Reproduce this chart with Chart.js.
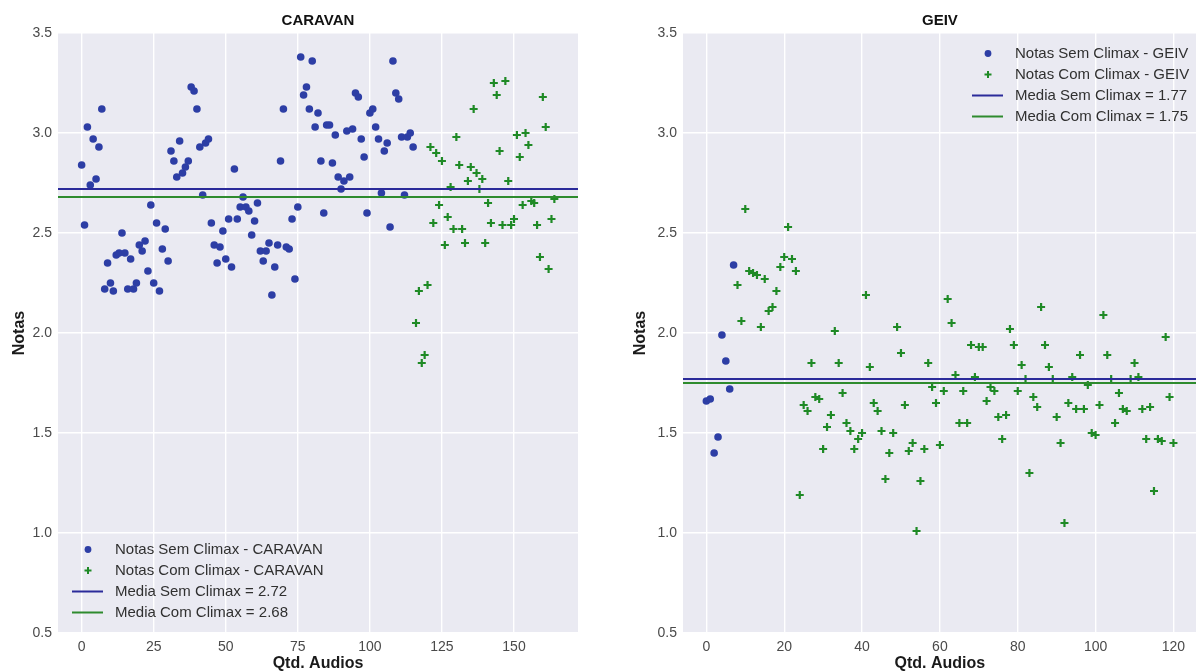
<!DOCTYPE html>
<html>
<head>
<meta charset="utf-8">
<script src="https://cdn.jsdelivr.net/npm/chart.js@4.4.1/dist/chart.umd.min.js"></script>
<style>
  html, body { margin: 0; padding: 0; background: #fff; overflow: hidden; }
  #wrap { position: relative; width: 1196px; height: 672px; overflow: hidden; }
  canvas { position: absolute; top: 0; }
  #caravan-chart { left: 0; }
  #geiv-chart { left: 598px; }
</style>
</head>
<body>
<div id="wrap">
  <canvas id="caravan-chart" width="598" height="672"></canvas>
  <canvas id="geiv-chart" width="605" height="672"></canvas>
</div>
<script>
// tick labels
const notasTicks = [0.5, 1.0, 1.5, 2.0, 2.5, 3.0, 3.5];
const caravanAudioTicks = [0, 25, 50, 75, 100, 125, 150];
const geivAudioTicks = [0, 20, 40, 60, 80, 100, 120];

// CARAVAN: notas por audio (sem climax primeiro, depois com climax)
const caravanSemClimax = [
    2.84, 2.54, 3.03, 2.74, 2.97, 2.77, 2.93, 3.12, 2.22, 2.35,
    2.25, 2.21, 2.39, 2.40, 2.50, 2.40, 2.22, 2.37, 2.22, 2.25,
    2.44, 2.41, 2.46, 2.31, 2.64, 2.25, 2.55, 2.21, 2.42, 2.52,
    2.36, 2.91, 2.86, 2.78, 2.96, 2.80, 2.83, 2.86, 3.23, 3.21,
    3.12, 2.93, 2.69, 2.95, 2.97, 2.55, 2.44, 2.35, 2.43, 2.51,
    2.37, 2.57, 2.33, 2.82, 2.57, 2.63, 2.68, 2.63, 2.61, 2.49,
    2.56, 2.65, 2.41, 2.36, 2.41, 2.45, 2.19, 2.33, 2.44, 2.86,
    3.12, 2.43, 2.42, 2.57, 2.27, 2.63, 3.38, 3.19, 3.23, 3.12,
    3.36, 3.03, 3.10, 2.86, 2.60, 3.04, 3.04, 2.85, 2.99, 2.78,
    2.72, 2.76, 3.01, 2.78, 3.02, 3.20, 3.18, 2.97, 2.88, 2.60,
    3.10, 3.12, 3.03, 2.97, 2.70, 2.91, 2.95, 2.53, 3.36, 3.20,
    3.17, 2.98, 2.69, 2.98, 3.00, 2.93
];
const caravanComClimax = [
    2.05, 2.21, 1.85, 1.89, 2.24, 2.93, 2.55, 2.90, 2.64, 2.86,
    2.44, 2.58, 2.73, 2.52, 2.98, 2.84, 2.52, 2.45, 2.76, 2.83,
    3.12, 2.80, 2.72, 2.77, 2.45, 2.65, 2.55, 3.25, 3.19, 2.91,
    2.54, 3.26, 2.76, 2.54, 2.57, 2.99, 2.88, 2.64, 3.00, 2.94,
    2.66, 2.65, 2.54, 2.38, 3.18, 3.03, 2.32, 2.57, 2.67
];
const caravanMediaSem = 2.72;
const caravanMediaCom = 2.68;

// GEIV
const geivSemClimax = [1.66, 1.67, 1.40, 1.48, 1.99, 1.86, 1.72, 2.34];
const geivComClimax = [
    2.24, 2.06, 2.62, 2.31, 2.30, 2.29, 2.03, 2.27, 2.11, 2.13,
    2.21, 2.33, 2.38, 2.53, 2.37, 2.31, 1.19, 1.64, 1.61, 1.85,
    1.68, 1.67, 1.42, 1.53, 1.59, 2.01, 1.85, 1.70, 1.55, 1.51,
    1.42, 1.47, 1.50, 2.19, 1.83, 1.65, 1.61, 1.51, 1.27, 1.40,
    1.50, 2.03, 1.90, 1.64, 1.41, 1.45, 1.01, 1.26, 1.42, 1.85,
    1.73, 1.65, 1.44, 1.71, 2.17, 2.05, 1.79, 1.55, 1.71, 1.55,
    1.94, 1.78, 1.93, 1.93, 1.66, 1.73, 1.71, 1.58, 1.47, 1.59,
    2.02, 1.94, 1.71, 1.84, 1.77, 1.30, 1.68, 1.63, 2.13, 1.94,
    1.83, 1.77, 1.58, 1.45, 1.05, 1.65, 1.78, 1.62, 1.89, 1.62,
    1.74, 1.50, 1.49, 1.64, 2.09, 1.89, 1.77, 1.55, 1.70, 1.62,
    1.61, 1.77, 1.85, 1.78, 1.62, 1.47, 1.63, 1.21, 1.47, 1.46,
    1.98, 1.68, 1.45
];
const geivMediaSem = 1.77;
const geivMediaCom = 1.75;

const BLUE = '#2d3ea5';
const GREEN = '#1f8a26';
const BLUE_LINE = '#2b2b9a';
const GREEN_LINE = '#2e8b2e';
const FONT = "'Liberation Sans', Arial, sans-serif";

Chart.defaults.font.family = FONT;
Chart.defaults.color = '#4a4a4a';

const toPoints = (values, start) => values.map((y, i) => ({ x: start + i, y }));

// fills the plot area with the seaborn-like grey
const plotBackground = {
    id: 'plotBackground',
    beforeDraw(chart) {
        const { ctx, chartArea: a } = chart;
        ctx.save();
        ctx.fillStyle = '#eaeaf2';
        ctx.fillRect(a.left, a.top, a.right - a.left, a.bottom - a.top);
        ctx.restore();
    }
};

// legend drawn inside the plot area
const insetLegend = {
    id: 'insetLegend',
    afterDraw(chart, args, opts) {
        const ctx = chart.ctx;
        ctx.save();
        ctx.font = '15px ' + FONT;
        ctx.textBaseline = 'middle';
        chart.data.datasets.forEach((ds, i) => {
            const y = opts.top + i * opts.rowHeight;
            const mx = opts.left + 16;
            if (ds.type === 'line') {
                ctx.strokeStyle = ds.borderColor;
                ctx.lineWidth = 2;
                ctx.beginPath();
                ctx.moveTo(opts.left, y);
                ctx.lineTo(opts.left + 31, y);
                ctx.stroke();
            } else if (ds.pointStyle === 'cross') {
                ctx.strokeStyle = ds.borderColor;
                ctx.lineWidth = 2;
                ctx.beginPath();
                ctx.moveTo(mx - 3.5, y); ctx.lineTo(mx + 3.5, y);
                ctx.moveTo(mx, y - 3.5); ctx.lineTo(mx, y + 3.5);
                ctx.stroke();
            } else {
                ctx.fillStyle = ds.backgroundColor;
                ctx.beginPath();
                ctx.arc(mx, y, 3.4, 0, Math.PI * 2);
                ctx.fill();
            }
            ctx.fillStyle = '#303030';
            ctx.fillText(ds.label, opts.left + 43, y);
        });
        ctx.restore();
    }
};

function makeChart(canvasId, cfg) {
    const total = cfg.sem.length + cfg.com.length;
    const pad = (total - 1) * 0.05;
    const xMin = -pad;
    const xMax = total - 1 + pad;

    return new Chart(document.getElementById(canvasId), {
        type: 'scatter',
        data: {
            datasets: [
                {
                    label: 'Notas Sem Climax - ' + cfg.name,
                    data: toPoints(cfg.sem, 0),
                    backgroundColor: BLUE,
                    borderColor: BLUE,
                    borderWidth: 0,
                    pointRadius: 3.8,
                    order: 2
                },
                {
                    label: 'Notas Com Climax - ' + cfg.name,
                    data: toPoints(cfg.com, cfg.sem.length),
                    pointStyle: 'cross',
                    backgroundColor: GREEN,
                    borderColor: GREEN,
                    borderWidth: 2.2,
                    pointRadius: 4,
                    order: 1
                },
                {
                    type: 'line',
                    label: 'Media Sem Climax = ' + cfg.mediaSem.toFixed(2),
                    data: [{ x: xMin, y: cfg.mediaSem }, { x: xMax, y: cfg.mediaSem }],
                    borderColor: BLUE_LINE,
                    borderWidth: 2,
                    pointRadius: 0,
                    order: 0
                },
                {
                    type: 'line',
                    label: 'Media Com Climax = ' + cfg.mediaCom.toFixed(2),
                    data: [{ x: xMin, y: cfg.mediaCom }, { x: xMax, y: cfg.mediaCom }],
                    borderColor: GREEN_LINE,
                    borderWidth: 2,
                    pointRadius: 0,
                    order: 0
                }
            ]
        },
        options: {
            responsive: false,
            animation: false,
            layout: { padding: { left: 0, right: cfg.padRight, top: 0, bottom: 0 } },
            plugins: {
                legend: { display: false },
                tooltip: { enabled: false },
                title: {
                    display: true,
                    text: cfg.name,
                    fullSize: false,
                    color: '#111',
                    font: { size: 15, weight: 'bold' },
                    padding: { top: 12, bottom: 3 }
                },
                insetLegend: cfg.legend
            },
            scales: {
                x: {
                    type: 'linear',
                    min: xMin,
                    max: xMax,
                    afterBuildTicks: (s) => { s.ticks = cfg.xTicks.map(v => ({ value: v })); },
                    afterFit: (s) => { s.height = 39; },
                    grid: { color: '#ffffff', lineWidth: 1.4, drawTicks: false },
                    border: { display: false },
                    ticks: { font: { size: 14 }, padding: 6, maxRotation: 0 },
                    title: {
                        display: true,
                        text: 'Qtd. Audios',
                        color: '#1a1a1a',
                        font: { size: 16, weight: 'bold' },
                        padding: { top: 0, bottom: -1 }
                    }
                },
                y: {
                    type: 'linear',
                    min: 0.5,
                    max: 3.5,
                    afterBuildTicks: (s) => { s.ticks = notasTicks.map(v => ({ value: v })); },
                    afterFit: (s) => { s.width = cfg.yWidth; },
                    grid: { color: '#ffffff', lineWidth: 1.4, drawTicks: false },
                    border: { display: false },
                    ticks: { font: { size: 14 }, padding: 6, callback: (v) => Number(v).toFixed(1) },
                    title: {
                        display: true,
                        text: 'Notas',
                        color: '#1a1a1a',
                        font: { size: 16, weight: 'bold' },
                        padding: { top: cfg.yTitlePad, bottom: 0 }
                    }
                }
            }
        },
        plugins: [plotBackground, insetLegend]
    });
}

makeChart('caravan-chart', {
    name: 'CARAVAN',
    sem: caravanSemClimax,
    com: caravanComClimax,
    mediaSem: caravanMediaSem,
    mediaCom: caravanMediaCom,
    xTicks: caravanAudioTicks,
    yWidth: 58,
    yTitlePad: 10,
    padRight: 20,
    legend: { left: 72, top: 549.5, rowHeight: 21 }
});

makeChart('geiv-chart', {
    name: 'GEIV',
    sem: geivSemClimax,
    com: geivComClimax,
    mediaSem: geivMediaSem,
    mediaCom: geivMediaCom,
    xTicks: geivAudioTicks,
    yWidth: 85,
    yTitlePad: 33,
    padRight: 0,
    legend: { left: 374, top: 53.5, rowHeight: 21 }
});
</script>
</body>
</html>
